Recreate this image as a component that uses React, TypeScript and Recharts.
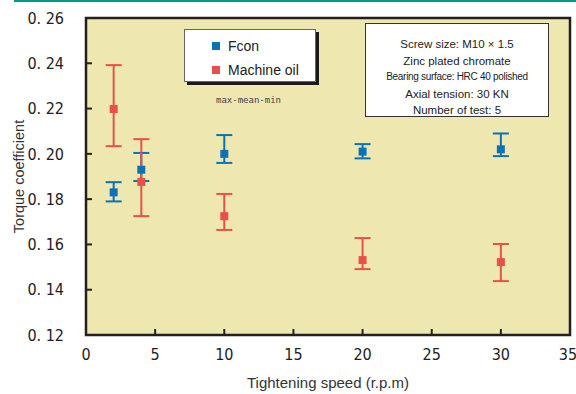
import {
    ScatterChart,
    Scatter,
    XAxis,
    YAxis,
    ZAxis,
    ErrorBar,
    CartesianGrid,
    ReferenceArea,
    Legend
} from "recharts"

// tightening speed (r.p.m)
const fconSpeed = [2, 4, 10, 20, 30]
const fconMean = [0.183, 0.193, 0.2, 0.201, 0.202]
const fconMax = [0.1875, 0.2004, 0.2083, 0.2043, 0.209]
const fconMin = [0.179, 0.188, 0.196, 0.198, 0.199]

const oilSpeed = [2, 4, 10, 20, 30]
const oilMean = [0.2198, 0.1876, 0.1725, 0.1531, 0.1522]
const oilMax = [0.2392, 0.2065, 0.1823, 0.1628, 0.1602]
const oilMin = [0.2034, 0.1725, 0.1664, 0.1491, 0.1438]

const xTicks = [0, 5, 10, 15, 20, 25, 30, 35]
const yTicks = [0.12, 0.14, 0.16, 0.18, 0.2, 0.22, 0.24, 0.26]

const notes = [
    "Screw size: M10 × 1.5",
    "Zinc plated chromate",
    "Bearing surface: HRC 40 polished",
    "Axial tension: 30 KN",
    "Number of test: 5"
]

const BLUE = "#0b72b6"
const RED = "#e8514b"

function toRows(xs: number[], mean: number[], max: number[], min: number[]) {
    return xs.map((x, i) => ({
        x,
        y: mean[i],
        err: [mean[i] - min[i], max[i] - mean[i]]
    }))
}

const fconData = toRows(fconSpeed, fconMean, fconMax, fconMin)
const oilData = toRows(oilSpeed, oilMean, oilMax, oilMin)

const tickFont = {
    fontFamily: "'DejaVu Sans Condensed', 'Liberation Sans Narrow', 'Liberation Sans', sans-serif",
    fontSize: 16,
    fill: "#222"
}

function LegendBox(props: any) {
    const items = props.payload || []
    return (
        <div
            style={{
                width: 132,
                height: 53,
                background: "#fff",
                border: "1px solid #666",
                boxShadow: "3px 3px 0 #1a1a1a",
                fontFamily: "'Liberation Sans', Arial, sans-serif",
                fontSize: 14,
                color: "#222",
                boxSizing: "border-box",
                paddingTop: 4,
                textAlign: "left"
            }}
        >
            {items.map((it: any) => (
                <div key={it.value} style={{ display: "flex", alignItems: "center", height: 24, paddingLeft: 27 }}>
                    <span style={{ display: "inline-block", width: 8, height: 8, background: it.color, marginRight: 8 }} />
                    {it.value}
                </div>
            ))}
        </div>
    )
}

export default function App() {
    return (
        <div style={{ position: "absolute", left: 0, top: 0, width: 576, height: 394, background: "#fff" }}>
            <div style={{ position: "absolute", left: 14, top: 0, width: 562, height: 2, background: "#00998a" }} />
            <ScatterChart width={576} height={394} margin={{ top: 18, right: 6, bottom: 0, left: 0 }}>
                <CartesianGrid fill="#eee8b0" horizontal={false} vertical={false} />
                <XAxis
                    type="number"
                    dataKey="x"
                    domain={[0, 35]}
                    ticks={xTicks}
                    height={59}
                    axisLine={false}
                    tickSize={-6}
                    tickMargin={20}
                    tickLine={{ stroke: "#222", strokeWidth: 2 }}
                    tick={tickFont}
                    label={{
                        value: "Tightening speed (r.p.m)",
                        position: "insideBottom",
                        offset: 6,
                        style: { fontFamily: "'Liberation Sans', Arial, sans-serif", fontSize: 15, fill: "#333" }
                    }}
                />
                <YAxis
                    type="number"
                    dataKey="y"
                    domain={[0.12, 0.26]}
                    ticks={yTicks}
                    width={86}
                    axisLine={false}
                    tickSize={-6}
                    tickMargin={28}
                    tickLine={{ stroke: "#222", strokeWidth: 2 }}
                    tick={tickFont}
                    tickFormatter={(v: number) => v.toFixed(2).replace(".", ". ")}
                    label={{
                        value: "Torque coefficient",
                        angle: -90,
                        position: "insideLeft",
                        offset: 19,
                        style: { textAnchor: "middle", fontFamily: "'Liberation Sans', Arial, sans-serif", fontSize: 14.5, fill: "#333" }
                    }}
                />
                <ZAxis range={[72, 72]} />
                <ReferenceArea x1={0} x2={35} y1={0.12} y2={0.26} fill="none" stroke="#231f20" strokeWidth={2.5} />
                <Legend
                    layout="vertical"
                    align="center"
                    verticalAlign="middle"
                    wrapperStyle={{ left: 184, top: 29, width: 132, height: 53 }}
                    content={<LegendBox />}
                />
                <Scatter name="Fcon" data={fconData} fill={BLUE} shape="square" isAnimationActive={false}>
                    <ErrorBar dataKey="err" direction="y" width={8} stroke={BLUE} strokeWidth={2} />
                </Scatter>
                <Scatter name="Machine oil" data={oilData} fill={RED} shape="square" isAnimationActive={false}>
                    <ErrorBar dataKey="err" direction="y" width={8} stroke={RED} strokeWidth={2} />
                </Scatter>
            </ScatterChart>
            <div
                style={{
                    position: "absolute",
                    left: 216,
                    top: 95,
                    fontFamily: "'DejaVu Sans Mono', monospace",
                    fontSize: 9,
                    color: "#444"
                }}
            >
                max-mean-min
            </div>
            <div
                style={{
                    position: "absolute",
                    left: 365,
                    top: 23,
                    width: 184,
                    height: 94,
                    boxSizing: "border-box",
                    background: "#fff",
                    border: "1.5px solid #333",
                    fontFamily: "'Liberation Sans', Arial, sans-serif",
                    color: "#222",
                    textAlign: "center",
                    paddingTop: 12
                }}
            >
                {notes.map((n, i) => (
                    <div
                        key={n}
                        style={{
                            fontSize: i === 2 ? 10 : 11.5,
                            letterSpacing: i === 2 ? -0.3 : 0,
                            lineHeight: "16.5px"
                        }}
                    >
                        {n}
                    </div>
                ))}
            </div>
        </div>
    )
}
